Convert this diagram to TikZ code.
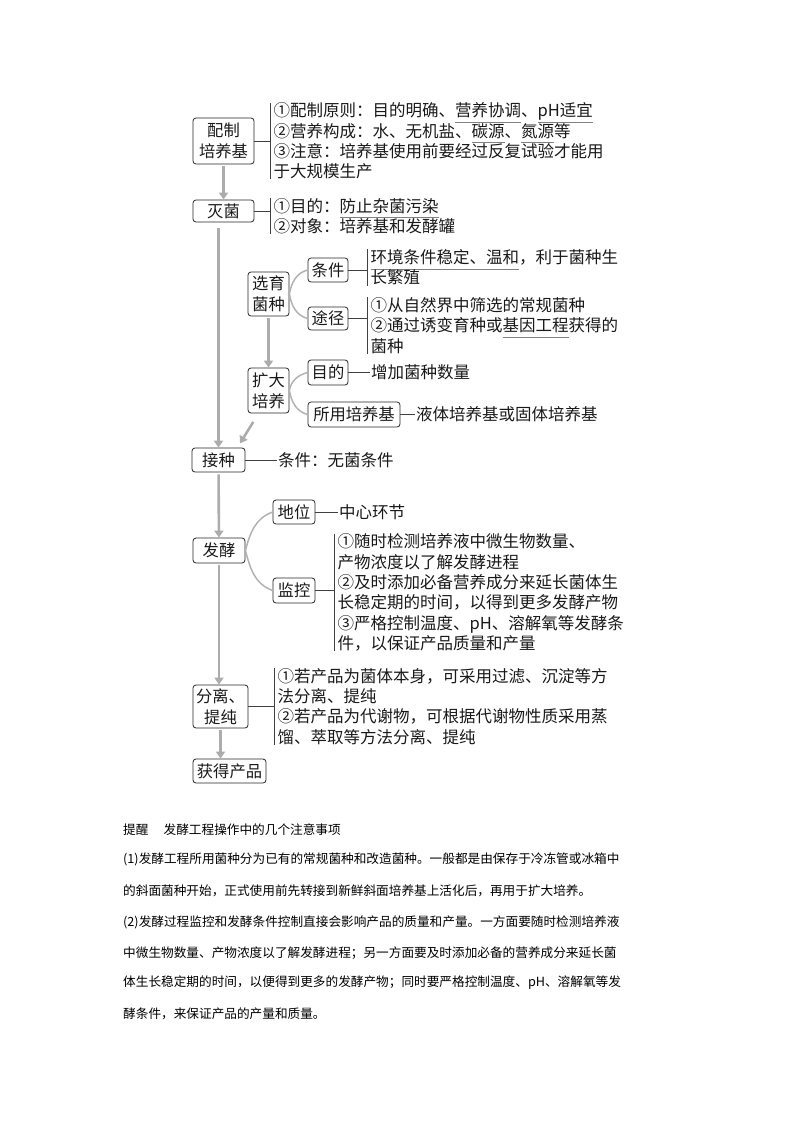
\documentclass[tikz,border=0pt]{standalone}
\usepackage{fontspec}
\setmainfont{Noto Sans CJK SC}
\usetikzlibrary{arrows.meta}

\newcommand{\boxfont}{\fontsize{16.3}{21}\selectfont}
\newcommand{\notefont}{\fontsize{16.5}{20.3}\selectfont}
\newcommand{\parafont}{\fontsize{12.65}{15}\selectfont}
\newcommand{\keyline}[1]{{\color{gray}\underline{\color{black!90}\vphantom{p}#1}}}

\begin{document}
\begin{tikzpicture}[x=1pt, y=-1pt,
		box/.style={draw=black!85, line width=0.8pt, rounded corners=3pt, inner sep=1pt, align=center, font=\boxfont, text=black!90},
		note/.style={anchor=west, align=left, inner xsep=3.5pt, inner ysep=0pt, font=\notefont, text=black!90},
		leaf/.style={anchor=west, inner xsep=1pt, inner ysep=0pt, font=\notefont, text=black!90},
		para/.style={anchor=west, inner sep=0pt, font=\parafont, text=black},
		flow/.style={draw=gray!65, line width=2.6pt, -{Triangle[length=7pt, width=9pt]}, shorten <=2pt},
		tie/.style={draw=black!75, line width=0.8pt},
		branch/.style={draw=gray!60, line width=1.5pt}]
		\useasboundingbox (0,0) rectangle (800,1132);

		\node[box, minimum width=61pt, minimum height=46pt] (peizhi) at (223.5,141) {配制\\培养基};
		\node[box, minimum width=61pt, minimum height=22pt] (miejun) at (223.5,211) {灭菌};
		\node[box, minimum width=41pt, minimum height=44pt] (xuanyu) at (268.5,294) {选育\\菌种};
		\node[box, minimum width=40pt, minimum height=24pt] (tiaojian) at (328,270) {条件};
		\node[box, minimum width=40pt, minimum height=23pt] (tujing) at (328,318.5) {途径};
		\node[box, minimum width=41pt, minimum height=45pt] (kuoda) at (268.5,390.5) {扩大\\培养};
		\node[box, minimum width=40pt, minimum height=25pt] (mudi) at (328,372.5) {目的};
		\node[box, minimum width=92pt, minimum height=25pt] (peiyangji) at (354,414.5) {所用培养基};
		\node[box, minimum width=53pt, minimum height=24pt] (jiezhong) at (218.5,460) {接种};
		\node[box, minimum width=52pt, minimum height=25pt] (fajiao) at (219,550.5) {发酵};
		\node[box, minimum width=42pt, minimum height=24pt] (diwei) at (294,512) {地位};
		\node[box, minimum width=42pt, minimum height=25pt] (jiankong) at (294,590.5) {监控};
		\node[box, minimum width=55pt, minimum height=43pt] (fenli) at (220.5,706.5) {分离、\\提纯};
		\node[box, minimum width=73pt, minimum height=24pt] (huode) at (229.5,771) {获得产品};

		\node[note] (peizhiNote) at (270,141) {①配制原则：目的明确、\keyline{营养协调}、\keyline{pH适宜}\\②营养构成：水、无机盐、\keyline{碳源}、\keyline{氮源}等\\③注意：培养基使用前要经过反复试验才能用\\于大规模生产};
		\node[note] (miejunNote) at (270,216) {①目的：\keyline{防止杂菌污染}\\②对象：培养基和发酵罐};
		\node[note] (tiaojianNote) at (367,267.5) {\keyline{环境条件稳定、温和}，利于菌种生\\长繁殖};
		\node[note] (tujingNote) at (367,325.5) {①从自然界中筛选的常规菌种\\②通过诱变育种或\keyline{基因工程}获得的\\菌种};
		\node[note] (jiankongNote) at (334,592.5) {①随时检测培养液中微生物数量、\\产物浓度以了解发酵进程\\②及时添加必备营养成分来延长菌体生\\长稳定期的时间，以得到更多发酵产物\\③严格控制温度、pH、溶解氧等发酵条\\件，以保证产品质量和产量};
		\node[note] (fenliNote) at (274,706.5) {①若产品为菌体本身，可采用过滤、沉淀等方\\法分离、提纯\\②若产品为代谢物，可根据代谢物性质采用蒸\\馏、萃取等方法分离、提纯};

		\node[leaf] (mudiLeaf) at (370,372.5) {增加菌种数量};
		\node[leaf] (peiyangjiLeaf) at (415,414.5) {液体培养基或固体培养基};
		\node[leaf] (jiezhongLeaf) at (277,460) {条件：无菌条件};
		\node[leaf] (diweiLeaf) at (338,512) {中心环节};

		\draw[flow] (peizhi) -- (miejun);
		\draw[flow, shorten <=6pt] (miejun.south -| jiezhong.north) -- (jiezhong.north);
		\draw[flow] (xuanyu) -- (kuoda);
		\draw[flow, shorten <=10pt, shorten >=5pt] ([xshift=-10pt]kuoda.south) -- ([xshift=-8pt]jiezhong.north east);
		\draw[flow] (jiezhong) -- (fajiao);
		\draw[flow] (fajiao.south) -- (fajiao.south |- fenli.north);
		\draw[flow] (fenli.south) -- (fenli.south |- huode.north);

		\draw[branch] (xuanyu.east) to[out=80, in=195] (tiaojian.west);
		\draw[branch] (xuanyu.east) to[out=-80, in=165] (tujing.west);
		\draw[branch] (kuoda.east) to[out=80, in=195] (mudi.west);
		\draw[branch] (kuoda.east) to[out=-80, in=165] (peiyangji.west);
		\draw[branch] (fajiao.east) to[out=75, in=200] (diwei.west);
		\draw[branch] (fajiao.east) to[out=-75, in=160] (jiankong.west);

		\draw[tie] (peizhi.east) -- (peizhi.east -| peizhiNote.west);
		\draw[tie] (peizhiNote.north west) -- (peizhiNote.south west);
		\draw[tie] (miejun.east) -- (miejun.east -| miejunNote.west);
		\draw[tie] (miejunNote.north west) -- (miejunNote.south west);
		\draw[tie] (tiaojian.east) -- (tiaojian.east -| tiaojianNote.west);
		\draw[tie] (tiaojianNote.north west) -- (tiaojianNote.south west);
		\draw[tie] (tujing.east) -- (tujing.east -| tujingNote.west);
		\draw[tie] (tujingNote.north west) -- (tujingNote.south west);
		\draw[tie] (jiankong.east) -- (jiankong.east -| jiankongNote.west);
		\draw[tie] (jiankongNote.north west) -- (jiankongNote.south west);
		\draw[tie] (fenli.east) -- (fenli.east -| fenliNote.west);
		\draw[tie] (fenliNote.north west) -- (fenliNote.south west);

		\draw[tie] (mudi) -- (mudiLeaf);
		\draw[tie] (peiyangji) -- (peiyangjiLeaf);
		\draw[tie] (jiezhong) -- (jiezhongLeaf);
		\draw[tie] (diwei) -- (diweiLeaf);

		\node[para] (tipTitle) at (123,830) {提醒\hspace{1.2em}发酵工程操作中的几个注意事项};
		\node[para] (tipOneA) at (123,859) {(1)发酵工程所用菌种分为已有的常规菌种和改造菌种。一般都是由保存于冷冻管或冰箱中};
		\node[para] (tipOneB) at (123,891) {的斜面菌种开始，正式使用前先转接到新鲜斜面培养基上活化后，再用于扩大培养。};
		\node[para] (tipTwoA) at (123,922) {(2)发酵过程监控和发酵条件控制直接会影响产品的质量和产量。一方面要随时检测培养液};
		\node[para] (tipTwoB) at (123,953) {中微生物数量、产物浓度以了解发酵进程；另一方面要及时添加必备的营养成分来延长菌};
		\node[para] (tipTwoC) at (123,983) {体生长稳定期的时间，以便得到更多的发酵产物；同时要严格控制温度、pH、溶解氧等发};
		\node[para] (tipTwoD) at (123,1014) {酵条件，来保证产品的产量和质量。};
	\end{tikzpicture}
\end{document}
